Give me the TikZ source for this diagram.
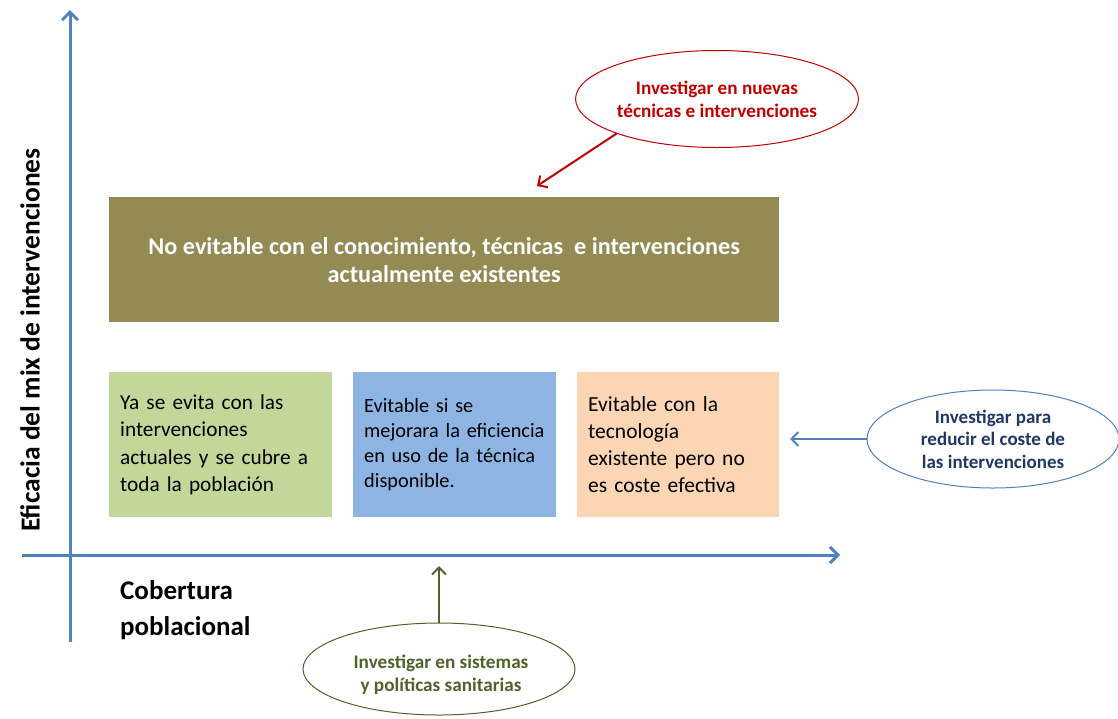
\documentclass[tikz,border=0pt]{standalone}
\usepackage{fontspec}
\setmainfont{Carlito}
\usetikzlibrary{arrows.meta,shapes.geometric}
\definecolor{axisblue}{HTML}{4F81BD}
\definecolor{olivebox}{HTML}{948A54}
\definecolor{greenbox}{HTML}{C4D79B}
\definecolor{bluebox}{HTML}{8DB4E2}
\definecolor{orangebox}{HTML}{FCD5B4}
\definecolor{darkred}{HTML}{C00000}
\definecolor{navy}{HTML}{1F3864}
\definecolor{darkgreen}{HTML}{4F6228}
\tikzset{
  axis/.style={draw=axisblue,line width=3pt,-{Straight Barb[length=8pt,width=16pt,line width=3pt]}},
  cell/.style={anchor=north west,inner xsep=11pt,inner ysep=0pt,align=left,minimum height=145pt},
  bubble/.style={ellipse,draw,line width=1pt,inner sep=0pt,align=center,font=\bfseries\fontsize{19.2}{23}\selectfont},
  bubbletext/.style={inner sep=0pt,align=center,font=\bfseries\fontsize{19.2}{23}\selectfont},
  pointer/.style={line width=2pt,-{Straight Barb[length=7pt,width=14pt,line width=2pt]}}
}
\begin{document}
\begin{tikzpicture}[x=1pt,y=-1pt]
\useasboundingbox (0,0) rectangle (1118,718);
% axes
\coordinate (ybot) at (70,642);
\coordinate (ytop) at (70,10);
\coordinate (xl) at (22,555);
\coordinate (xr) at (840,555);
\draw[axis] (ybot) -- (ytop);
\draw[axis] (xl) -- (xr);
% axis labels
\node[rotate=90,font=\bfseries\fontsize{27.5}{30}\selectfont] (ylab) at (30,340) {Eficacia del mix de intervenciones};
\node[anchor=west,align=left,inner sep=0pt,font=\bfseries\fontsize{27}{36}\selectfont] (xlab) at (120,610) {Cobertura\\poblacional};
% boxes
\node[anchor=north west,fill=olivebox,minimum width=670pt,minimum height=125pt,inner sep=0pt,align=center,text=white,font=\bfseries\fontsize{24.2}{28}\selectfont] (big) at (109,197) {No evitable con el conocimiento, técnicas~ e intervenciones\\actualmente existentes};
\node[cell,fill=greenbox,text width=201pt,font=\fontsize{21.3}{27.3}\selectfont] (g) at (109,372) {\rule{0pt}{6pt}Ya se evita con las\\intervenciones\\actuales y se cubre a\\toda la población};
\node[cell,fill=bluebox,text width=181pt,font=\fontsize{20.3}{25}\selectfont] (b) at (353,372) {\rule{0pt}{4pt}Evitable si se\\mejorara la eficiencia\\en uso de la técnica\\disponible.};
\node[cell,fill=orangebox,text width=180pt,font=\fontsize{21.5}{27}\selectfont] (o) at (577,372) {\rule{0pt}{4pt}Evitable con la\\tecnología\\existente pero no\\es coste efectiva};
% bubbles
\node[bubble,draw=darkred,text=darkred,minimum width=282pt,minimum height=97pt] (e1) at (717,99) {Investigar en nuevas\\técnicas e intervenciones};
\node[bubble,draw=axisblue,text=navy,minimum width=252pt,minimum height=98pt,font=\bfseries\fontsize{19}{22.5}\selectfont] (e2) at (993,439) {Investigar para\\reducir el coste de\\las intervenciones};
\node[bubble,draw=darkgreen,minimum width=272pt,minimum height=92pt] (e3) at (439,669) {};
\node[bubbletext,text=darkgreen] (e3t) at (441,675) {Investigar en sistemas\\y políticas sanitarias};
% pointers
\coordinate (t1) at (537,186);
\coordinate (t2) at (790,439);
\coordinate (t3) at (439,566);
\draw[pointer,darkred] (e1.-161) -- (t1);
\draw[pointer,axisblue] (e2.west) -- (t2);
\draw[pointer,darkgreen] (e3.north) -- (t3);
\end{tikzpicture}
\end{document}
